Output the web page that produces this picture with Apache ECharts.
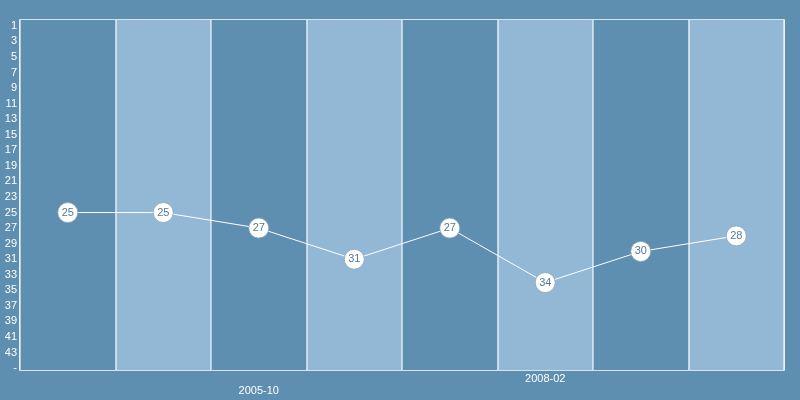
<!DOCTYPE html>
<html>
<head>
<meta charset="utf-8">
<script src="https://cdn.jsdelivr.net/npm/echarts@6/dist/echarts.min.js"></script>
<style>html,body{margin:0;padding:0;background:#5e8eb0;}#c{width:800px;height:400px;}</style>
</head>
<body>
<div id="c"></div>
<script>
// x categories (only two labels shown in the reference)
var xCategories = ['', ' ', '2005-10', '  ', '   ', '2008-02', '    ', '     '];
// y categories: ranks 1..44 and '-'
var yCategories = ['1','2','3','4','5','6','7','8','9','10','11','12','13','14','15','16','17','18','19','20','21','22','23','24','25','26','27','28','29','30','31','32','33','34','35','36','37','38','39','40','41','42','43','44','-'];
// series values (rank)
var ranks = [25, 25, 27, 31, 27, 34, 30, 28];

var seriesData = ranks.map(function (v, i) { return [i, String(v)]; });
var FONT = 'Liberation Sans, Arial, sans-serif';

var chart = echarts.init(document.getElementById('c'), null, {renderer: 'canvas'});
chart.setOption({
  backgroundColor: '#5e8eb0',
  animation: false,
  grid: [
    {left: 20, right: 16, top: 20, bottom: 30, show: true, borderColor: '#ffffff', borderWidth: 1.5, backgroundColor: 'transparent', outerBoundsMode: 'none', containLabel: false, z: 0},
    {left: 20, right: 16, top: 22, bottom: 28, show: false, outerBoundsMode: 'none', containLabel: false}
  ],
  xAxis: [{
    type: 'category',
    gridIndex: 0,
    data: xCategories,
    boundaryGap: true,
    axisLine: {show: false},
    axisTick: {show: false},
    axisLabel: {
      color: '#ffffff', fontSize: 11, fontFamily: FONT,
      interval: 0,
      margin: 3,
      formatter: function (val, idx) {
        if (idx === 2) return '{lo|' + val + '}';
        return val.trim();
      },
      rich: {lo: {color: '#ffffff', fontSize: 11, fontFamily: FONT, padding: [12, 0, 0, 0]}}
    },
    splitLine: {show: true, interval: 0, lineStyle: {color: 'rgba(255,255,255,0.75)', width: 1.5}},
    splitArea: {show: true, interval: 0, areaStyle: {color: ['#5e8eb0', '#93b8d5']}}
  }, {
    type: 'category',
    gridIndex: 1,
    data: xCategories,
    boundaryGap: true,
    axisLine: {show: false},
    axisTick: {show: false},
    axisLabel: {show: false},
    splitLine: {show: false},
    splitArea: {show: false}
  }],
  yAxis: [{
    type: 'category',
    gridIndex: 0,
    data: yCategories,
    inverse: true,
    show: false
  }, {
    type: 'category',
    gridIndex: 1,
    data: yCategories,
    inverse: true,
    boundaryGap: true,
    axisLine: {show: false},
    axisTick: {show: false},
    splitLine: {show: false},
    axisLabel: {color: '#ffffff', fontSize: 11, fontFamily: FONT, interval: 1, margin: 3}
  }],
  series: [{
    type: 'line',
    xAxisIndex: 1,
    yAxisIndex: 1,
    data: seriesData,
    symbol: 'circle',
    symbolSize: 20,
    lineStyle: {color: '#ffffff', width: 1},
    itemStyle: {color: '#ffffff', borderColor: '#8aa4b8', borderWidth: 0.8},
    label: {
      show: true, position: 'inside', color: '#557a99', fontSize: 11, fontFamily: FONT,
      formatter: function (p) { return p.value[1]; }
    },
    emphasis: {disabled: true}
  }]
});
</script>
</body>
</html>
